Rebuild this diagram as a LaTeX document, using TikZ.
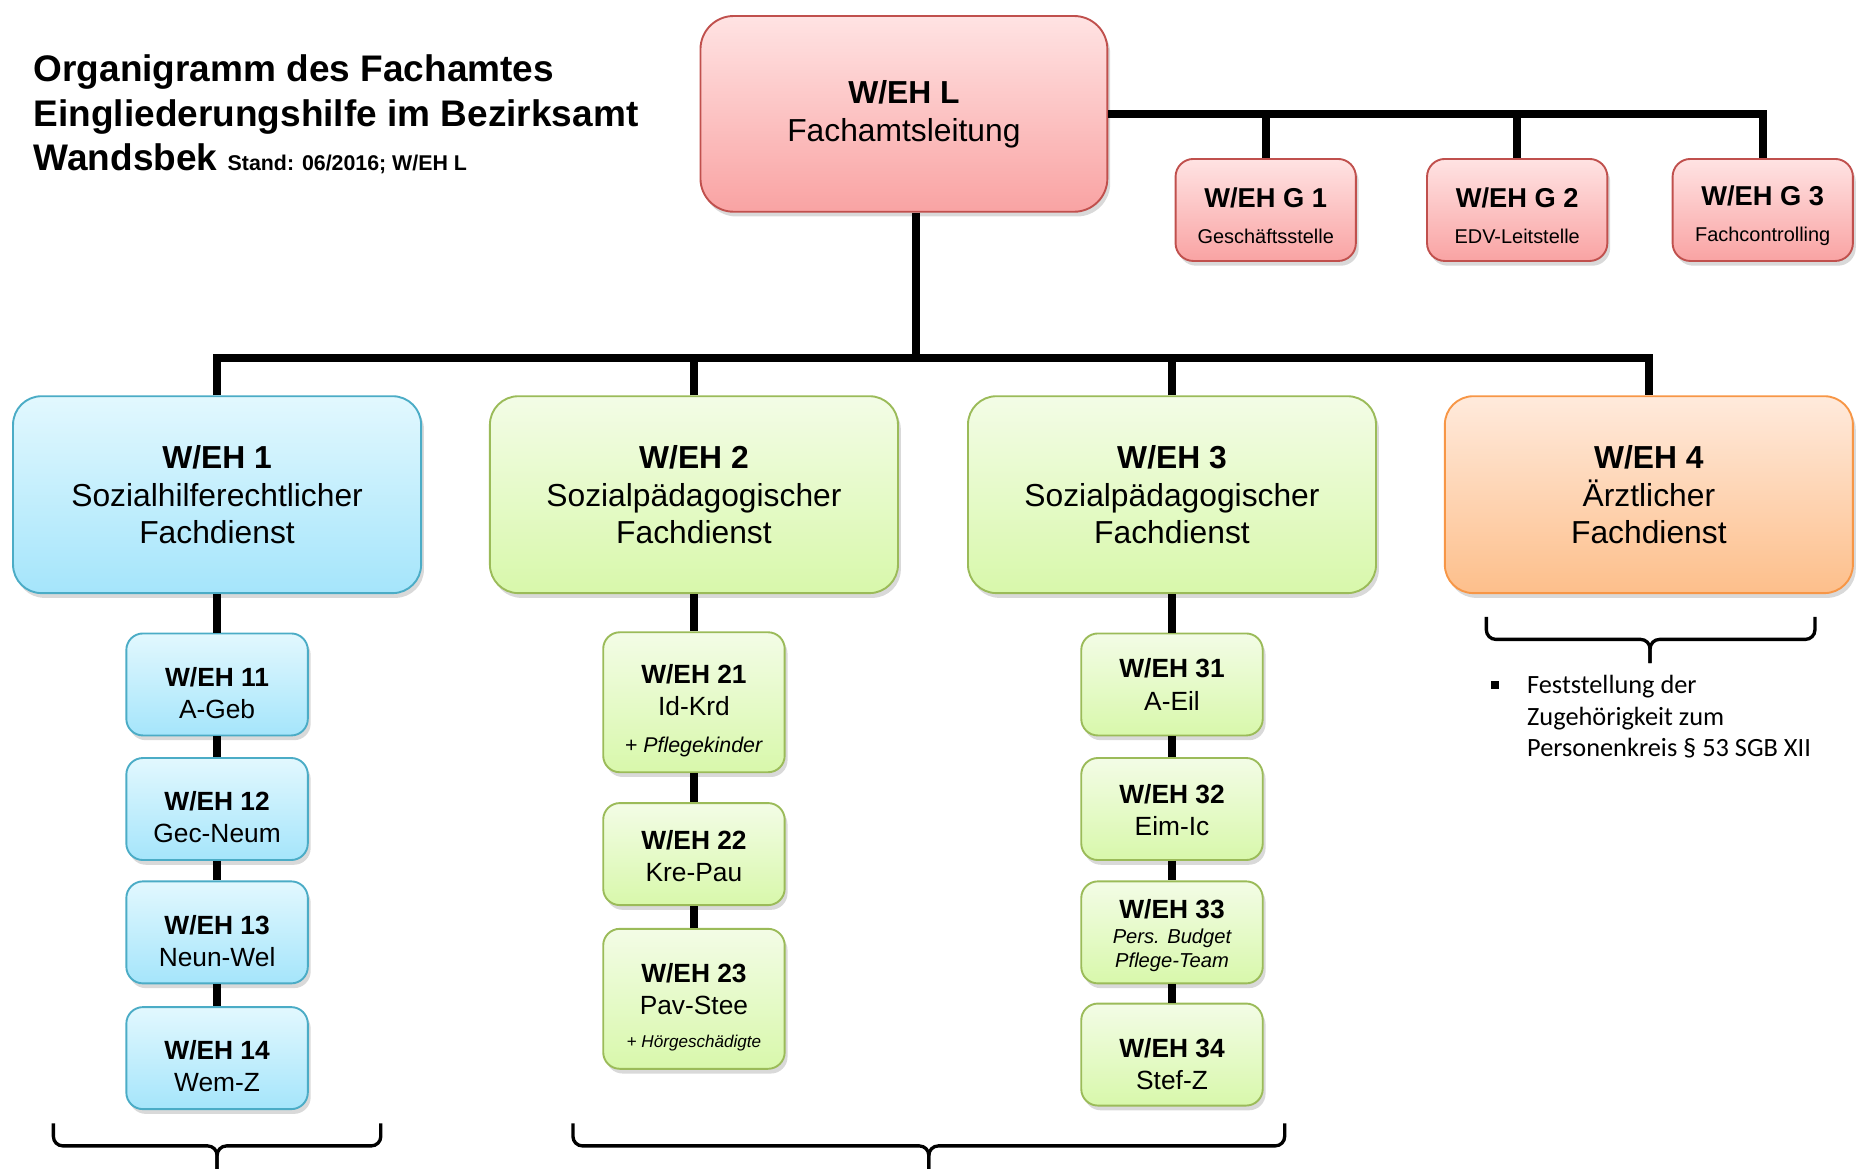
\documentclass[tikz,border=0pt]{standalone}
\usepackage{fontspec}
\setmainfont{Liberation Sans}
\newfontfamily\calfont{Carlito}
\usepackage{tikz}
\usetikzlibrary{shadows,calc}
\definecolor{redline}{HTML}{C0504D}
\definecolor{redtop}{HTML}{FFE3E3}
\definecolor{redbot}{HTML}{F9A3A3}
\definecolor{blueline}{HTML}{4BACC6}
\definecolor{bluetop}{HTML}{E2F8FE}
\definecolor{bluebot}{HTML}{A5E5FB}
\definecolor{greenline}{HTML}{9BBB59}
\definecolor{greentop}{HTML}{F3FCE6}
\definecolor{greenbot}{HTML}{D8F8AB}
\definecolor{orangeline}{HTML}{F79646}
\definecolor{orangetop}{HTML}{FFEADC}
\definecolor{orangebot}{HTML}{FDBF8B}
\tikzstyle{unit}=[draw, line width=0.8pt, align=center, inner sep=0pt, drop shadow={shadow xshift=1.2pt, shadow yshift=-2pt, opacity=.3}]
\tikzstyle{redbox}=[unit, draw=redline, top color=redtop, bottom color=redbot]
\tikzstyle{bluebox}=[unit, draw=blueline, top color=bluetop, bottom color=bluebot]
\tikzstyle{greenbox}=[unit, draw=greenline, top color=greentop, bottom color=greenbot]
\tikzstyle{orangebox}=[unit, draw=orangeline, top color=orangetop, bottom color=orangebot]
\tikzstyle{big}=[minimum width=172pt, minimum height=83pt, rounded corners=12pt, font=\fontsize{13.4}{16}\selectfont]
\tikzstyle{small}=[minimum width=76.5pt, minimum height=43pt, rounded corners=7pt, font=\fontsize{11.1}{13.5}\selectfont]
\tikzstyle{tall}=[small, minimum height=59pt]
\tikzstyle{gbox}=[redbox, minimum width=76pt, minimum height=43pt, rounded corners=7.5pt, font=\fontsize{8.4}{10}\selectfont]
\tikzstyle{link}=[line width=3.2pt]
\tikzstyle{curl}=[line width=1.4pt, rounded corners=4pt]
% strut that pushes a node's text down
\newcommand{\sink}[1]{\rule{0pt}{#1}}
% bracket: left x, right x, tip x, top y, bar y, tip end y
\newcommand{\kbrace}[6]{
	\draw[curl] (#1,#4) -- (#1,#5) -- (#3,#5) -- (#3,#6);
	\draw[curl] (#2,#4) -- (#2,#5) -- (#3,#5) -- (#3,#6);
}
\begin{document}
\begin{tikzpicture}[x=0.5pt, y=-0.5pt]
\useasboundingbox (0,0) rectangle (1568,985);
%
	\node[anchor=north west, align=left, inner sep=0pt, font=\fontsize{15.6}{18.75}\selectfont\bfseries] (title) at (28,46)
		{Organigramm des Fachamtes\\Eingliederungshilfe im Bezirksamt\\Wandsbek {\fontsize{9}{11}\selectfont Stand: 06/2016; W/EH L}};
%
	\node[redbox, minimum width=171.5pt, minimum height=82.5pt, rounded corners=14pt, font=\fontsize{13.4}{16}\selectfont] (L) at (762,96)
		{\textbf{W/EH L}\\Fachamtsleitung};
	\node[gbox] (G1) at (1067,177) {\sink{13.3pt}{\fontsize{11.5}{14}\selectfont\bfseries W/EH G 1}\\[5pt]Geschäftsstelle};
	\node[gbox] (G2) at (1279,177) {\sink{13.3pt}{\fontsize{11.5}{14}\selectfont\bfseries W/EH G 2}\\[5pt]EDV-Leitstelle};
	\node[gbox] (G3) at (1486,177) {\sink{13.3pt}{\fontsize{11.5}{14}\selectfont\bfseries W/EH G 3}\\[5pt]Fachcontrolling};
%
	\node[bluebox, big] (A1) at (183,417) {\textbf{W/EH 1}\\Sozialhilferechtlicher\\Fachdienst};
	\node[greenbox, big] (A2) at (585,417) {\textbf{W/EH 2}\\Sozialpädagogischer\\Fachdienst};
	\node[greenbox, big] (A3) at (988,417) {\textbf{W/EH 3}\\Sozialpädagogischer\\Fachdienst};
	\node[orangebox, big] (A4) at (1390,417) {\textbf{W/EH 4}\\Ärztlicher\\Fachdienst};
%
	\node[bluebox, small] (B11) at (183,577) {\sink{15pt}\textbf{W/EH 11}\\A-Geb};
	\node[bluebox, small] (B12) at (183,682) {\sink{15pt}\textbf{W/EH 12}\\Gec-Neum};
	\node[bluebox, small] (B13) at (183,786) {\sink{15pt}\textbf{W/EH 13}\\Neun-Wel};
	\node[bluebox, small] (B14) at (183,892) {\sink{15pt}\textbf{W/EH 14}\\Wem-Z};
%
	\node[greenbox, tall] (B21) at (585,592)
		{\sink{15pt}\textbf{W/EH 21}\\Id-Krd\\[2pt]{\fontsize{9}{11}\selectfont + \textit{Pflegekinder}}};
	\node[greenbox, small] (B22) at (585,720) {\sink{10pt}\textbf{W/EH 22}\\Kre-Pau};
	\node[greenbox, tall] (B23) at (585,842)
		{\sink{15pt}\textbf{W/EH 23}\\Pav-Stee\\[0.5pt]{\fontsize{7.2}{9}\selectfont + \textit{Hörgeschädigte}}};
%
	\node[greenbox, small] (B31) at (988,577) {\textbf{W/EH 31}\\A-Eil};
	\node[greenbox, small] (B32) at (988,682) {\sink{9pt}\textbf{W/EH 32}\\Eim-Ic};
	\node[greenbox, small] (B33) at (988,786)
		{\sink{10.6pt}\textbf{W/EH 33}\\[-3pt]{\fontsize{8.5}{10}\selectfont\itshape Pers. Budget}\\[-3.5pt]{\fontsize{8.5}{10}\selectfont\itshape Pflege-Team}};
	\node[greenbox, small] (B34) at (988,889) {\sink{16pt}\textbf{W/EH 34}\\Stef-Z};
%
	\coordinate (bus) at (772,302);
	\draw[link] ([xshift=5pt]L.south) -- (bus);
	\draw[link] (A1.north) |- (bus) -| (A4.north);
	\draw[link] (A2.north) -- (A2.north |- bus);
	\draw[link] (A3.north) -- (A3.north |- bus);
	\draw[link] (L.east) -| (G3.north);
	\draw[link] (G1.north) -- (G1.north |- L.east);
	\draw[link] (G2.north) -- (G2.north |- L.east);
%
	\draw[link] (A1) -- (B11) -- (B12) -- (B13) -- (B14);
	\draw[link] (A2) -- (B21) -- (B22) -- (B23);
	\draw[link] (A3) -- (B31) -- (B32) -- (B33) -- (B34);
%
	\kbrace{45}{321}{183}{947}{966}{990}
	\kbrace{483}{1083}{783}{947}{966}{990}
	\kbrace{1253}{1530}{1391}{520}{539}{559}
%
	\node[fill, inner sep=0pt, minimum size=3.3pt] (dot) at (1260.5,577.5) {};
	\node[anchor=north west, align=left, inner sep=0pt, font=\calfont\fontsize{11.1}{13.3}\selectfont] (note) at (1287,569)
		{Feststellung der\\Zugehörigkeit zum\\Personenkreis § 53 SGB XII};
\end{tikzpicture}
\end{document}
